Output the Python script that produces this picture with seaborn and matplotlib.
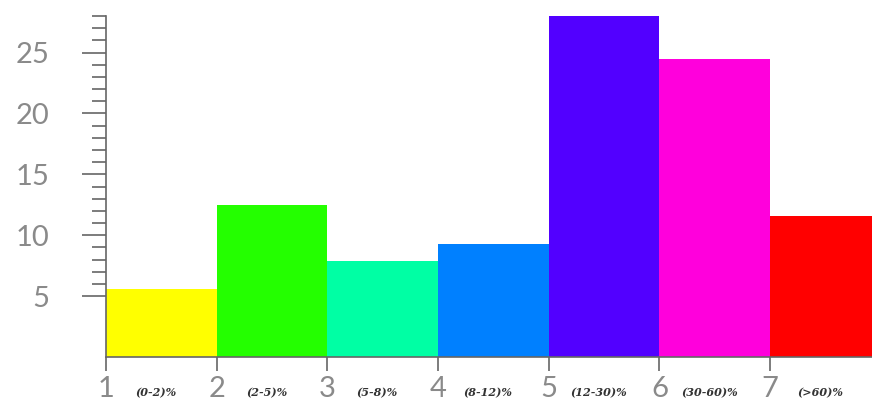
import matplotlib
matplotlib.use("Agg")
import matplotlib.pyplot as plt
from matplotlib.ticker import FixedLocator
import seaborn as sns
import numpy as np
import pandas as pd

# data
bins = [1, 2, 3, 4, 5, 6, 7]
ranges = ["(0-2)%", "(2-5)%", "(5-8)%", "(8-12)%", "(12-30)%", "(30-60)%", "(>60)%"]
values = [5.6, 12.5, 7.9, 9.3, 28.0, 24.5, 11.6]
colors = ["#FFFF00", "#24FF00", "#00FFA4", "#0080FF", "#5200FF", "#FF00DC", "#FF0000"]

sns.set_style("white")
plt.rcParams["font.family"] = ["Lato", "DejaVu Sans"]

df = pd.DataFrame({"pos": np.array(bins) + 0.5, "value": values, "range": ranges})

fig = plt.figure(figsize=(8.72, 4.04), dpi=100)
ax = fig.add_axes([106 / 872, 47 / 404, 766 / 872, 341 / 404])

sns.barplot(data=df, x="pos", y="value", hue="range", palette=colors,
            native_scale=True, width=1.0, dodge=False, legend=False,
            linewidth=0, saturation=1, ax=ax)

ax.set_xlim(1, 7.92)
ax.set_ylim(0, 28)
ax.set_xlabel("")
ax.set_ylabel("")

ax.xaxis.set_major_locator(FixedLocator(bins))
ax.set_xticklabels([str(b) for b in bins])
ax.yaxis.set_major_locator(FixedLocator([5, 10, 15, 20, 25]))
ax.yaxis.set_minor_locator(FixedLocator([v for v in range(6, 29) if v % 5 != 0]))

for s in ["top", "right"]:
    ax.spines[s].set_visible(False)
for s in ["left", "bottom"]:
    ax.spines[s].set_color("#666666")
    ax.spines[s].set_linewidth(1.2)

ax.tick_params(axis="y", which="major", direction="out", length=17, width=1.2,
               color="#666666", labelsize=21, labelcolor="#8a8a8a", pad=24, left=True)
ax.tick_params(axis="y", which="minor", direction="out", length=10, width=1.2,
               color="#666666", left=True)
ax.tick_params(axis="x", which="major", direction="out", length=10, width=1.2,
               color="#666666", labelsize=21, labelcolor="#8a8a8a", pad=4, bottom=True)

# range labels between the ticks
trans = ax.get_xaxis_transform()
for b, r in zip(bins, ranges):
    ax.text(b + 0.45, -0.105, r, transform=trans, ha="center", va="center",
            fontsize=8, style="italic", fontweight="bold", color="#333333",
            family=["DejaVu Serif"])

fig.savefig("out.png", dpi=100)
